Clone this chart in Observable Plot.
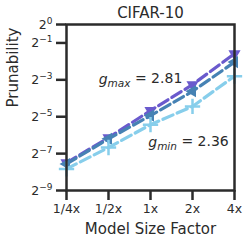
<!DOCTYPE html>
<html>
<head>
<meta charset="utf-8">
<script src="https://cdn.jsdelivr.net/npm/d3@7"></script>
<script src="https://cdn.jsdelivr.net/npm/@observablehq/plot@0.6"></script>
<style>
  html, body { margin: 0; padding: 0; background: #fff; }
  svg { font-family: "DejaVu Sans", sans-serif; }
</style>
</head>
<body>
<div id="chart"></div>
<script>
const title = "CIFAR-10";
const xLabel = "Model Size Factor";
const yLabel = "Prunability";
const factors = ["1/4x", "1/2x", "1x", "2x", "4x"];
const yTickExponents = [0, -1, -3, -5, -7, -9];
const seriesColors = ["#6a5acd", "#4682b4", "#87ceeb"];
const valuesMax = [0.00552, 0.0142, 0.0393, 0.1044, 0.3345];
const valuesMid = [0.00530, 0.0136, 0.0326, 0.0813, 0.2432];
const valuesMin = [0.00440, 0.00982, 0.0232, 0.0460, 0.1436];
const annotSubs = ["max", "min"];
const annotValues = ["2.81", "2.36"];

const yTicks = yTickExponents.map(e => 2 ** e);
const toRows = (vals, name) => vals.map((v, i) => ({factor: factors[i], value: v, series: name}));
const rowsMax = toRows(valuesMax, "max");
const rowsMid = toRows(valuesMid, "mid");
const rowsMin = toRows(valuesMin, "min");

const fmtPow = d => "2^" + Math.round(Math.log2(d));

const dash = "11,4.5";
const ink = "#2b2b2b";

const chart = Plot.plot({
  width: 250,
  height: 245,
  marginLeft: 66,
  marginRight: 16,
  marginTop: 24,
  marginBottom: 55,
  style: {fontFamily: "DejaVu Sans, sans-serif", color: ink, background: "#fff"},
  x: {type: "point", domain: factors, padding: 0},
  y: {type: "log", base: 2, domain: [2 ** -9, 1]},
  marks: [
    Plot.axisX({tickSize: 10, strokeWidth: 2.5, stroke: ink, tickPadding: 4, fontSize: 12.5, label: null, fill: ink}),
    Plot.axisY({ticks: yTicks, tickFormat: fmtPow, tickSize: 10, strokeWidth: 2.5, stroke: ink, tickPadding: 4, fontSize: 12.5, label: null, fill: ink}),
    Plot.lineY(rowsMax, {x: "factor", y: "value", stroke: seriesColors[0], strokeWidth: 3.2, strokeDasharray: dash}),
    Plot.dot(rowsMax, {x: "factor", y: "value", symbol: "triangle", rotate: 180, fill: seriesColors[0], r: 4.5}),
    Plot.lineY(rowsMid, {x: "factor", y: "value", stroke: seriesColors[1], strokeWidth: 3.2, strokeDasharray: dash}),
    Plot.dot(rowsMid, {x: "factor", y: "value", symbol: "triangle", rotate: -90, fill: seriesColors[1], r: 4.5}),
    Plot.lineY(rowsMin, {x: "factor", y: "value", stroke: seriesColors[2], strokeWidth: 3.2, strokeDasharray: dash}),
    Plot.dot(rowsMin, {x: "factor", y: "value", symbol: "plus", stroke: seriesColors[2], strokeWidth: 2.5, r: 5}),
    Plot.frame({stroke: ink, strokeWidth: 2.5}),
    Plot.text([annotSubs[0]], {x: () => "1x", y: () => 2 ** -3, dx: -10, text: d => d, fontSize: 14, fill: ink}),
    Plot.text([annotSubs[1]], {x: () => "2x", y: () => 2 ** -6.4, dx: -4, text: d => d, fontSize: 14, fill: ink}),
    Plot.text([title], {frameAnchor: "top", lineAnchor: "middle", dy: -11, fontSize: 15, fill: ink}),
    Plot.text([xLabel], {frameAnchor: "bottom", lineAnchor: "middle", dy: 39, fontSize: 15, fill: ink}),
    Plot.text([yLabel], {frameAnchor: "left", lineAnchor: "middle", rotate: -90, dx: -53, fontSize: 15, fill: ink})
  ]
});

const svg = d3.select(chart);
svg.selectAll("text").each(function() {
  const t = d3.select(this);
  const s = t.text();
  const i = annotSubs.indexOf(s);
  if (i >= 0) {
    t.text(null);
    t.append("tspan").attr("font-style", "italic").text("g");
    t.append("tspan").attr("font-style", "italic").attr("font-size", "10.5").attr("dy", "0.3em").text(annotSubs[i]);
    t.append("tspan").attr("dy", "-0.3em").text(" = " + annotValues[i]);
  } else if (/^2\^-?\d+$/.test(s)) {
    const e = s.slice(2).replace("-", "\u2212");
    t.text(null);
    t.append("tspan").text("2");
    t.append("tspan").attr("font-size", "9").attr("dy", "-0.5em").text(e);
  }
});
document.getElementById("chart").appendChild(chart);
</script>
</body>
</html>
